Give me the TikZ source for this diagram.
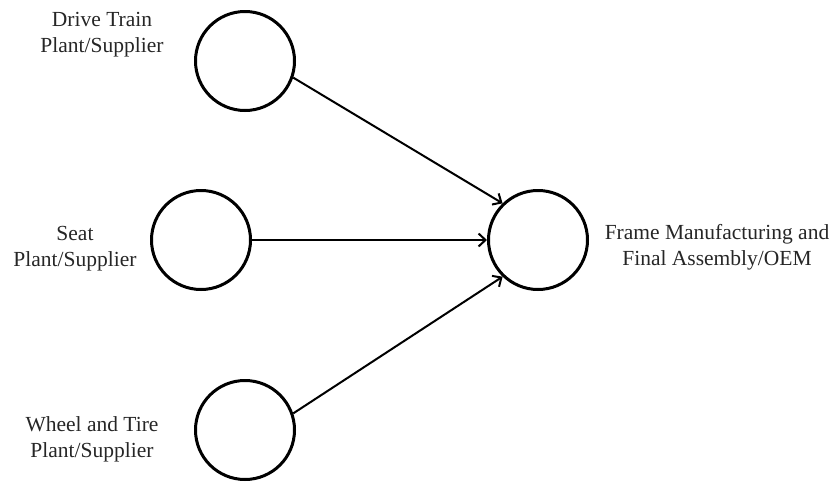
\documentclass[tikz,border=0pt]{standalone}
\usepackage{fontspec}
\setmainfont{Liberation Serif}
\usetikzlibrary{arrows.meta}
\begin{document}
\begin{tikzpicture}[x=1pt,y=-1pt,
  station/.style={circle,draw=black,line width=3pt,minimum size=99pt,inner sep=0pt},
  caption/.style={align=center,inner sep=0pt,text=black!85,font=\fontsize{21.5}{26}\selectfont},
  flow/.style={line width=2pt,-{Straight Barb[length=7pt,width=13pt,line width=2pt]}}]
  \useasboundingbox (0,0) rectangle (835,485);
  % supplier plants and the OEM
  \node[station] (drive) at (245,61) {};
  \node[station] (seat)  at (201,240) {};
  \node[station] (wheel) at (245,430) {};
  \node[station] (oem)   at (538,240) {};
  % labels
  \node[caption] (ldrive) at (102,35)  {Drive Train\\Plant/Supplier};
  \node[caption] (lseat)  at (75,249)  {Seat\\Plant/Supplier};
  \node[caption] (lwheel) at (92,439)  {Wheel and Tire\\Plant/Supplier};
  \node[caption] (loem)   at (717,247) {Frame Manufacturing and\\Final Assembly/OEM};
  % material flows
  \draw[flow] (drive.-19.5) -- (oem.134);
  \draw[flow] (seat.east) -- (oem.west);
  \draw[flow] (wheel.19.5) -- (oem.226);
\end{tikzpicture}
\end{document}
